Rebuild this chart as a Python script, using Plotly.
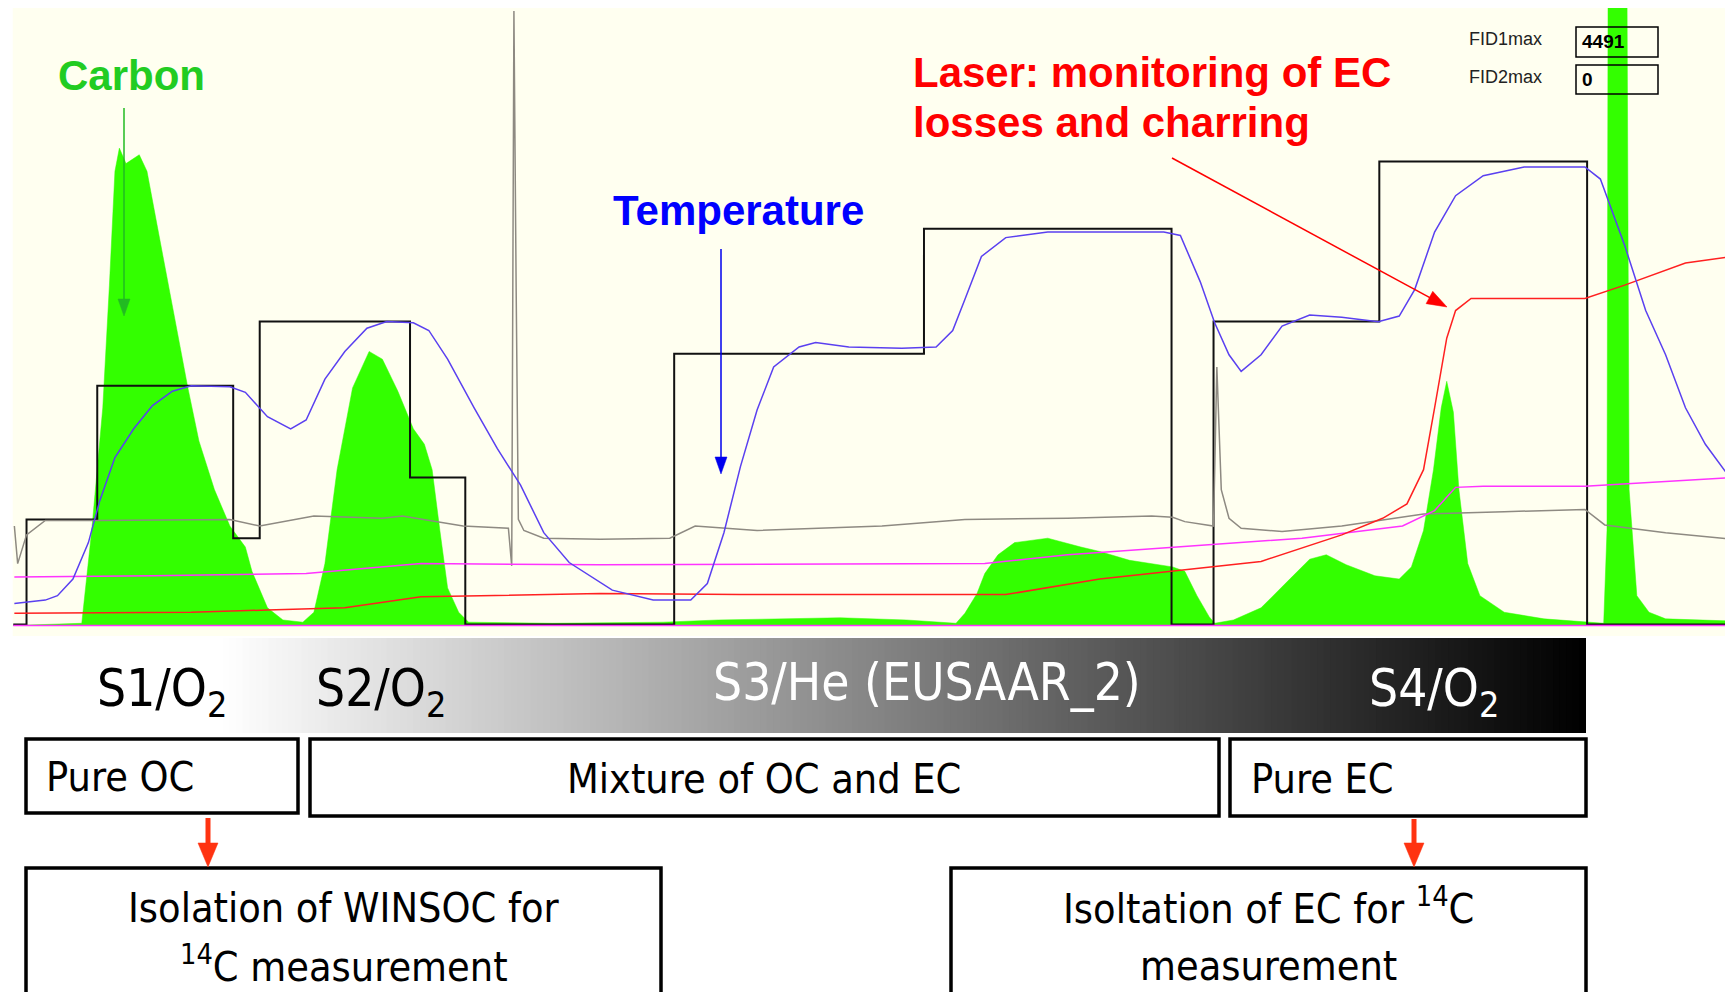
import plotly.graph_objects as go

# ---------------- data (time axis in arbitrary run units, signal in arbitrary units) ----------------
# Oven temperature set-point (step programme)
setpoint_t = [12, 24, 88, 211, 235, 371, 421, 610, 836, 1060, 1098, 1248, 1436, 1568]
setpoint_v = [1, 96, 217, 79, 275, 134, 1, 246, 359, 1, 275, 420, 1, 1]

# Measured temperature
temp_t = [13, 41, 52, 66, 80, 90, 104, 121, 138, 156, 173, 208, 222, 242, 263, 277, 294, 312, 332, 350,
          374, 388, 405, 429, 450, 471, 492, 515, 554, 591, 625, 640, 655, 670, 685, 700, 723, 738, 768,
          816, 847, 862, 873, 888, 910, 948, 1053, 1068, 1086, 1099, 1112, 1123, 1141, 1160, 1185, 1214,
          1247, 1266, 1280, 1298, 1317, 1342, 1379, 1434, 1448, 1470, 1489, 1507, 1525, 1543, 1568]
temp_v = [20, 23, 27, 42, 75, 112, 152, 178, 199, 212, 217, 216, 211, 189, 178, 186, 223, 248, 269, 275,
          274, 267, 241, 197, 160, 127, 84, 57, 32, 23, 23, 38, 84, 144, 195, 234, 252, 256, 252,
          251, 252, 267, 295, 334, 351, 356, 356, 353, 311, 274, 245, 230, 245, 271, 281, 279,
          275, 280, 304, 356, 389, 407, 415, 415, 404, 344, 285, 245, 197, 164, 130]

# Gray trace
gray_t = [13, 16, 24, 41, 87, 208, 235, 284, 346, 364, 419, 460, 463, 465, 467, 469, 474, 492, 543, 606,
          629, 685, 798, 873, 966, 1042, 1061, 1072, 1098, 1101, 1105, 1112, 1123, 1160, 1214, 1288, 1361,
          1434, 1452, 1507, 1568]
gray_v = [90, 56, 82, 95, 95, 96, 90, 99, 97, 99, 90, 88, 54, 556, 306, 96, 86, 79, 78, 79,
          90, 86, 90, 96, 97, 99, 98, 94, 90, 234, 123, 97, 88, 85, 90, 101, 103,
          105, 91, 84, 78]

# Magenta trace
magenta_t = [13, 138, 277, 381, 543, 891, 966, 995, 1061, 1178, 1269, 1298, 1317, 1342, 1434, 1507, 1568]
magenta_v = [44, 45, 47, 56, 55, 56, 64, 66, 71, 79, 90, 104, 125, 126, 126, 130, 134]

# Second FID baseline (magenta, flat)
fid2_t = [12, 1568]
fid2_v = [0, 0]

# Laser signal (red)
laser_t = [13, 173, 242, 312, 381, 543, 670, 910, 995, 1061, 1141, 1214, 1251, 1273, 1288, 1298, 1309,
           1317, 1331, 1434, 1470, 1525, 1568]
laser_v = [11, 12, 14, 16, 26, 29, 28, 28, 42, 49, 58, 82, 97, 110, 141, 197, 260,
           285, 296, 296, 308, 328, 334]

# FID carbon signal (green)
fid_t = [12, 74, 83, 93, 99, 104, 108, 114, 126, 133, 142, 149, 159, 170, 180, 194, 208, 222, 228, 242, 256, 274,
         284, 294, 305, 319, 334, 346, 360, 374, 384, 391, 398, 405, 415, 424,
         500, 600, 650, 700, 760, 820, 865, 873, 884, 891, 903, 918, 948, 978, 995, 1022, 1061, 1072, 1083, 1094, 1099,
         1116, 1141, 1167, 1185, 1200, 1218, 1244, 1266, 1277, 1288, 1297, 1304, 1309, 1315, 1320, 1328, 1339, 1361,
         1397, 1434, 1451, 1454, 1455, 1472, 1474, 1481, 1492, 1507, 1568]
fid_v = [0, 2, 86, 197, 308, 411, 432, 418, 426, 411, 363, 326, 271, 215, 167, 123, 90, 71, 49, 16, 5, 3,
         12, 56, 141, 215, 248, 241, 212, 178, 164, 141, 86, 34, 12, 3,
         2, 3, 5, 6, 7, 5, 2, 11, 29, 47, 64, 75, 79, 71, 67, 59, 53, 49, 27, 8, 2,
         5, 16, 42, 60, 64, 55, 45, 42, 53, 86, 141, 197, 221, 193, 123, 56, 27, 12,
         6, 3, 2, 86, 600, 600, 123, 27, 12, 6, 4]

fid_max_labels = ["FID1max", "FID2max"]
fid_max_values = ["4491", "0"]

step_labels = ["S1/O<sub>2</sub>", "S2/O<sub>2</sub>", "S3/He (EUSAAR_2)", "S4/O<sub>2</sub>"]
class_labels = ["Pure OC", "Mixture of OC and EC", "Pure EC"]

# ---------------- figure ----------------
# page body has an 8 px margin: the figure is sized so that page pixels line up with the reference
OFF = 8
W, H = 1733 - 2 * OFF, 1000 - 2 * OFF


def px(x):
    return (x - OFF) / W


def py(y):
    return 1 - (y - OFF) / H


fig = go.Figure()

fig.add_trace(go.Scatter(x=fid_t, y=fid_v, mode="lines", fill="tozeroy",
                         line=dict(color="#33FF00", width=0.5), fillcolor="#33FF00"))
fig.add_trace(go.Scatter(x=setpoint_t, y=setpoint_v, mode="lines", line_shape="hv",
                         line=dict(color="#111111", width=2)))
fig.add_trace(go.Scatter(x=gray_t, y=gray_v, mode="lines", line=dict(color="#8E8A82", width=1.5)))
fig.add_trace(go.Scatter(x=fid2_t, y=fid2_v, mode="lines", line=dict(color="#FF33FF", width=1.5)))
fig.add_trace(go.Scatter(x=magenta_t, y=magenta_v, mode="lines", line=dict(color="#FF33FF", width=1.5)))
fig.add_trace(go.Scatter(x=laser_t, y=laser_v, mode="lines", line=dict(color="#FF2020", width=1.5)))
fig.add_trace(go.Scatter(x=temp_t, y=temp_v, mode="lines", line=dict(color="#5A40F0", width=1.5)))

shapes = []
annotations = []

# gradient bar
x0g, x1g, gw0 = 13, 1586, 221
nstrip = 240
for i in range(nstrip):
    a = x0g + (x1g - x0g) * i / nstrip
    b = x0g + (x1g - x0g) * (i + 1) / nstrip + 0.8
    c = (a + b) / 2
    g = 255 if c < gw0 else max(0, int(round(255 * (1 - (c - gw0) / (x1g - gw0)))))
    col = "rgb(%d,%d,%d)" % (g, g, g)
    shapes.append(dict(type="rect", xref="paper", yref="paper", x0=px(a), x1=px(min(b, x1g)),
                       y0=py(733), y1=py(638), line=dict(width=0), fillcolor=col, layer="below"))


def box(x0, x1, y0, y1, lw=3.5):
    shapes.append(dict(type="rect", xref="paper", yref="paper", x0=px(x0), x1=px(x1),
                       y0=py(y1), y1=py(y0), line=dict(color="black", width=lw),
                       fillcolor="rgba(0,0,0,0)"))


box(26, 298, 739, 813)
box(310, 1219, 739, 816)
box(1230, 1586, 739, 816)
box(26, 661, 868, 1040)
box(951, 1586, 868, 1040)

# FID max boxes
box(1576, 1658, 27, 57, 1.5)
box(1576, 1658, 65, 94, 1.5)


def arrow(xt, yt, xh, yh, color, lw, hl, hw):
    dx, dy = xh - xt, yh - yt
    L = (dx * dx + dy * dy) ** 0.5
    ux, uy = dx / L, dy / L
    bx, by = xh - ux * hl, yh - uy * hl
    nx, ny = -uy, ux
    shapes.append(dict(type="line", xref="paper", yref="paper", x0=px(xt), y0=py(yt),
                       x1=px(bx + ux * 1), y1=py(by + uy * 1), line=dict(color=color, width=lw)))
    p1 = (bx + nx * hw / 2, by + ny * hw / 2)
    p2 = (bx - nx * hw / 2, by - ny * hw / 2)
    path = "M %f %f L %f %f L %f %f Z" % (px(xh), py(yh), px(p1[0]), py(p1[1]), px(p2[0]), py(p2[1]))
    shapes.append(dict(type="path", xref="paper", yref="paper", path=path,
                       fillcolor=color, line=dict(color=color, width=0.5)))


arrow(124, 108, 124, 316, "#22BB22", 1.5, 17, 12)
arrow(721, 249, 721, 474, "#0000EE", 1.5, 17, 12)
arrow(1172, 158, 1447, 307, "#FF0000", 1.5, 20, 14)
arrow(208, 818, 208, 867, "#FF3311", 5, 24, 20)
arrow(1414, 819, 1414, 867, "#FF3311", 5, 24, 20)

NARROW = "DejaVu Sans Condensed, Liberation Sans Narrow, Arial Narrow, sans-serif"
SANS = "Liberation Sans, Arial, sans-serif"


def text(t, x, y, size, color="black", family=NARROW, xanchor="center", yanchor="middle"):
    annotations.append(dict(text=t, x=px(x), y=py(y), xref="paper", yref="paper", showarrow=False,
                            xanchor=xanchor, yanchor=yanchor, font=dict(size=size, color=color, family=family)))


# annotation labels
text("<b>Carbon</b>", 131, 76, 42, "#22CC22", SANS)
text("<b>Temperature</b>", 738, 210, 42, "#0000FF", SANS)
text("<b>Laser: monitoring of EC</b>", 911, 73, 42, "#FF0000", SANS, xanchor="left")
text("<b>losses and charring</b>", 911, 123, 42, "#FF0000", SANS, xanchor="left")

# FID max
text(fid_max_labels[0], 1467, 39, 18, "#222222", SANS, xanchor="left")
text(fid_max_labels[1], 1467, 77, 18, "#222222", SANS, xanchor="left")
text("<b>" + fid_max_values[0] + "</b>", 1580, 42, 19, "black", SANS, xanchor="left")
text("<b>" + fid_max_values[1] + "</b>", 1580, 80, 19, "black", SANS, xanchor="left")

# step labels
text(step_labels[0], 162, 692, 51, "black")
text(step_labels[1], 381, 692, 51, "black")
text(step_labels[2], 927, 682, 51, "white")
text(step_labels[3], 1434, 692, 51, "white")

# class boxes
text(class_labels[0], 44, 777, 41, "black", xanchor="left")
text(class_labels[1], 764, 779, 41, "black")
text(class_labels[2], 1249, 779, 41, "black", xanchor="left")

text("Isolation of WINSOC for", 344, 908, 41)
text("<sup>14</sup>C measurement", 344, 964, 41)
text("Isoltation of EC for <sup>14</sup>C", 1268, 906, 41)
text("measurement", 1268, 966, 41)

fig.update_layout(
    width=W, height=H, autosize=False,
    margin=dict(l=0, r=0, t=0, b=0),
    paper_bgcolor="white", plot_bgcolor="#FFFFF0",
    showlegend=False,
    xaxis=dict(domain=[px(12.7), 1.0], range=[11.5, 1568 * (1725 - 12.7) / (1733 - 12.7) + 11.5 * (8 / 1720.3)],
               visible=False, showgrid=False, zeroline=False),
    yaxis=dict(domain=[py(636), 1.0], range=[-9.5, 561.5 - 3 * (567 / 631)], visible=False, showgrid=False,
               zeroline=False),
    shapes=shapes, annotations=annotations,
)

fig.write_html("out.html")
